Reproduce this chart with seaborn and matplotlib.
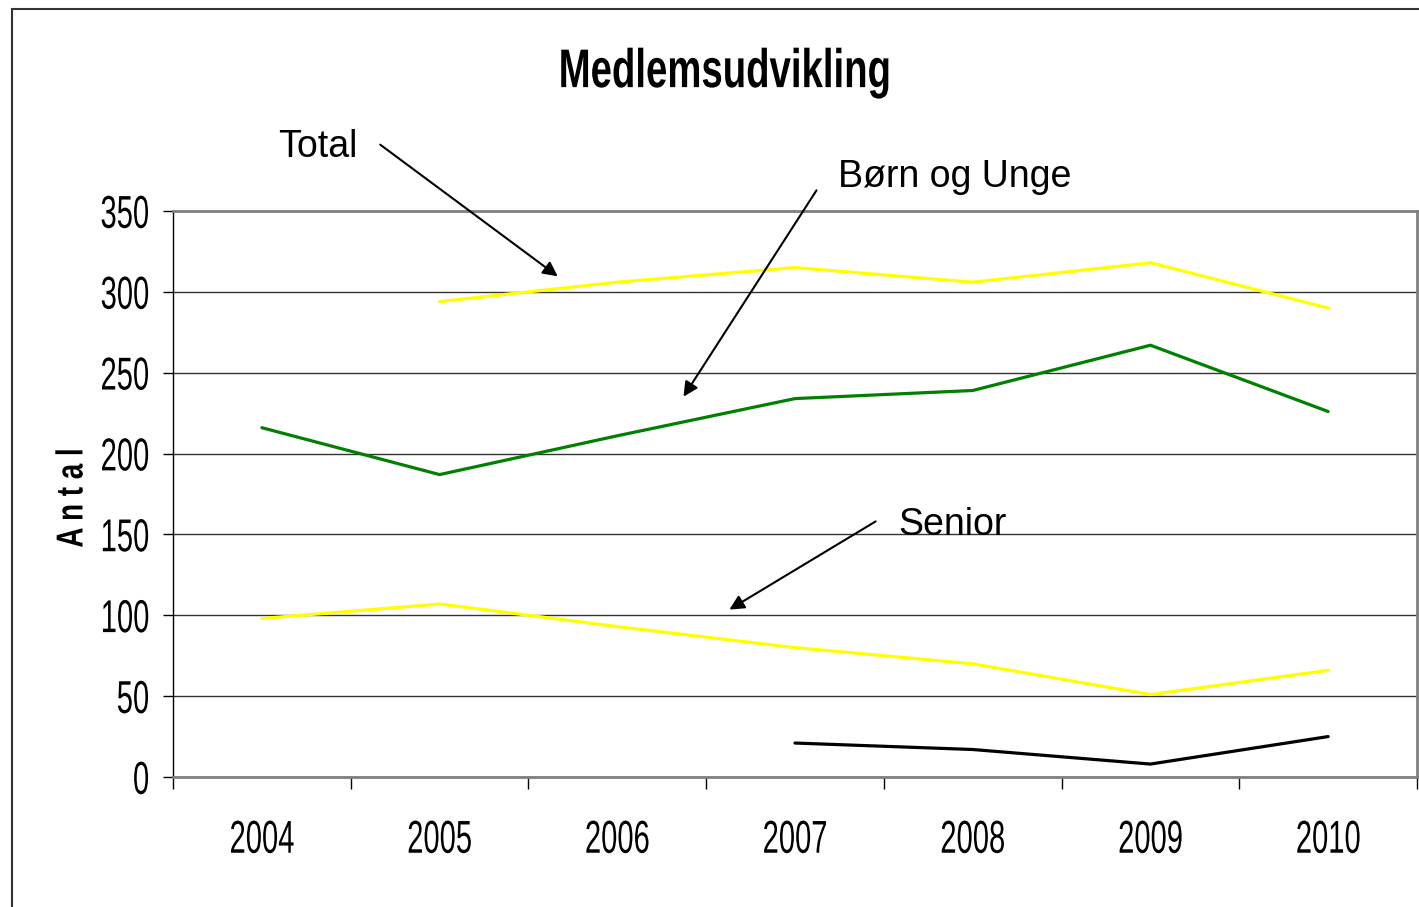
import numpy as np
import pandas as pd
import seaborn as sns
import matplotlib.pyplot as plt
from matplotlib import patheffects
from matplotlib.patches import Rectangle
from matplotlib.transforms import Affine2D

# data
years = [2004, 2005, 2006, 2007, 2008, 2009, 2010]
total = [np.nan, 294, 306, 315, 306, 318, 290]
born_unge = [216, 187, 211, 234, 239, 267, 226]
senior = [98, 107, 93, 80, 70, 51, 66]
oevrige = [np.nan, np.nan, np.nan, 21, 17, 8, 25]

df = pd.DataFrame({'aar': years, 'Total': total, 'Børn og Unge': born_unge,
                   'Senior': senior, 'Øvrige': oevrige})

W, H = 1419, 907


def px(x, y):
    # pixel position (from top left) -> figure fraction
    return x / W, 1 - y / H


class Tall(patheffects.AbstractPathEffect):
    # stretch glyphs in height about their middle (Arial Narrow look)
    def __init__(self, sy):
        super().__init__()
        self.sy = sy

    def draw_path(self, renderer, gc, tpath, affine, rgbFace=None):
        ext = tpath.get_extents()
        cy = (ext.y0 + ext.y1) / 2
        st = Affine2D().translate(0, -cy).scale(1, self.sy).translate(0, cy)
        renderer.draw_path(gc, tpath, st + affine, rgbFace)


sns.set_theme(style='white')
plt.rcParams['font.family'] = ['Liberation Sans', 'DejaVu Sans']
plt.rcParams['text.color'] = 'black'

fig = plt.figure(figsize=(W / 100, H / 100), dpi=100)
ax = fig.add_axes([173 / W, 1 - 777 / H, (1417 - 173) / W, (777 - 211) / H])

sns.lineplot(data=df, x='aar', y='Total', color='#FFFF00', lw=2.3, ax=ax)
sns.lineplot(data=df, x='aar', y='Børn og Unge', color='#008000', lw=2.3, ax=ax)
sns.lineplot(data=df, x='aar', y='Senior', color='#FFFF00', lw=2.3, ax=ax)
sns.lineplot(data=df, x='aar', y='Øvrige', color='black', lw=2.3, ax=ax)

ax.set_xlim(years[0] - 0.5, years[-1] + 0.5)
ax.set_ylim(0, 350)
ax.set_xlabel('')
ax.set_ylabel('')

ax.set_xticks(np.arange(years[0] - 0.5, years[-1] + 1, 1))
ax.set_xticklabels([])
ax.set_xticks(years, labels=[str(y) for y in years], minor=True)
ax.set_yticks(range(0, 351, 50))
ax.tick_params(axis='x', which='major', direction='out', length=8.6, width=1,
               color='black', bottom=True)
ax.tick_params(axis='x', which='minor', length=0, pad=34.5, labelsize=21,
               labelcolor='black')
ax.tick_params(axis='y', direction='out', length=7.2, width=1, color='black',
               left=True, pad=10, labelsize=21, labelcolor='black')

for lab in ax.get_xticklabels(minor=True):
    lab.set_path_effects([Tall(1.58)])
for lab in ax.get_yticklabels():
    lab.set_path_effects([Tall(1.58)])

ax.grid(axis='y', color='#333333', lw=1)
ax.grid(axis='x', visible=False)
ax.spines['left'].set_color('black')
ax.spines['left'].set_linewidth(1)
for s in ['top', 'right', 'bottom']:
    ax.spines[s].set_color('#808080')
    ax.spines[s].set_linewidth(2)

# title and y label
t = fig.text(*px(725, 73), 'Medlemsudvikling', ha='center', va='center',
             fontsize=27.6, fontweight='bold')
t.set_path_effects([Tall(1.42)])
yl = fig.text(*px(72, 498), 'A n t a l', ha='center', va='center', rotation=90,
              fontsize=20, fontweight='bold')
yl.set_path_effects([Tall(1.35)])

# labels with arrows
arrow = dict(arrowstyle='-|>', color='black', lw=1.5, mutation_scale=22)
fig.text(*px(318, 147), 'Total', ha='center', va='center', fontsize=27)
ax.annotate('', xy=px(560, 278), xytext=px(378, 143), xycoords='figure fraction',
            arrowprops=arrow)
fig.text(*px(838, 177), 'Børn og Unge', ha='left', va='center', fontsize=27)
ax.annotate('', xy=px(682, 399), xytext=px(818, 188), xycoords='figure fraction',
            arrowprops=arrow)
fig.text(*px(898, 525), 'Senior', ha='left', va='center', fontsize=27)
ax.annotate('', xy=px(727, 611), xytext=px(878, 520), xycoords='figure fraction',
            arrowprops=arrow)

# outer frame of the chart (right and bottom edges lie outside the picture)
x0, y0 = px(12, 1000)
top = px(0, 9)[1]
fig.patches.append(Rectangle((x0, y0), 1.2, top - y0, transform=fig.transFigure,
                             fill=False, ec='#333333', lw=1.5, clip_on=False))

fig.savefig('out.png', dpi=100)
